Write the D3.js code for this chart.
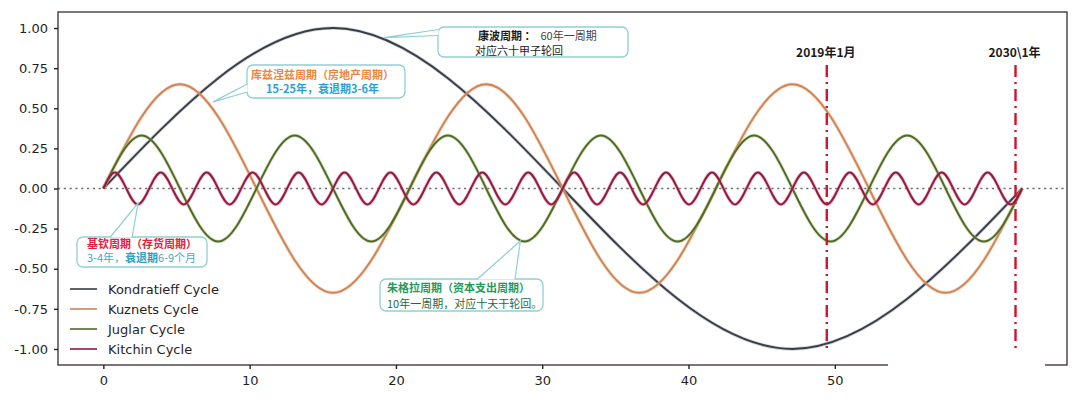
<!DOCTYPE html>
<html><head><meta charset="utf-8">
<script src="https://cdn.jsdelivr.net/npm/d3@7"></script>
<style>body{margin:0;background:#fff}svg{display:block}</style>
</head><body><svg id="c" width="1080" height="417"></svg>
<script>
// ---------- data ----------
const seriesNames = ["Kondratieff Cycle", "Kuznets Cycle", "Juglar Cycle", "Kitchin Cycle"];
// all four cycles start at x=0 and end where they meet again (in axis units)
const cycleStart = 0;
const cycleEnd = 62.8;
// values at evenly spaced quarter-period key points
const kondratieffY = [0, 1, 0, -1, 0];
const kuznetsY = [0, 0.65, 0, -0.65, 0, 0.65, 0, -0.65, 0, 0.65, 0, -0.65, 0];
const juglarY = [0, 0.33, 0, -0.33, 0, 0.33, 0, -0.33, 0, 0.33, 0, -0.33,
                 0, 0.33, 0, -0.33, 0, 0.33, 0, -0.33, 0, 0.33, 0, -0.33, 0];
const kitchinY = [0, 0.1, 0, -0.1, 0, 0.1, 0, -0.1, 0, 0.1, 0, -0.1, 0, 0.1, 0, -0.1,
                  0, 0.1, 0, -0.1, 0, 0.1, 0, -0.1, 0, 0.1, 0, -0.1, 0, 0.1, 0, -0.1,
                  0, 0.1, 0, -0.1, 0, 0.1, 0, -0.1, 0, 0.1, 0, -0.1, 0, 0.1, 0, -0.1,
                  0, 0.1, 0, -0.1, 0, 0.1, 0, -0.1, 0, 0.1, 0, -0.1, 0, 0.1, 0, -0.1,
                  0, 0.1, 0, -0.1, 0, 0.1, 0, -0.1, 0, 0.1, 0, -0.1, 0, 0.1, 0, -0.1, 0];
const xTicks = [0, 10, 20, 30, 40, 50, 60];
const yTicks = [1, 0.75, 0.5, 0.25, 0, -0.25, -0.5, -0.75, -1];
const markerX = [49.45, 62.35];
const markerLabels = ["2019年1月", "2030\\1年"];
// callout anchor points on the curves (x, y in data units)
const calloutAnchorX = [19.2, 7.5, 2.38, 28.5];
const calloutAnchorY = [0.94, 0.54, -0.09, -0.327];

// ---------- styles ----------
const colors = ["#383d48", "#cc845c", "#4e6a2a", "#8e1d3e"];
const halo = ["#9aa0a8", "#f0b070", "#a8c070", "#e07090"];
const tealBorder = "#8fcfd4";
const FONT = "'DejaVu Sans', sans-serif";
const CJK = "'Noto Sans CJK SC', sans-serif";

const svg = d3.select("#c");
const W = 1080, H = 417;
const L = 58, R = 1067, T = 12, B = 365;

const x = d3.scaleLinear().domain([-3.1, 65.87]).range([L, R]);
const y = d3.scaleLinear().domain([-1.1, 1.1]).range([B, T]);

svg.append("rect").attr("width", W).attr("height", H).attr("fill", "#fff");

// zero dotted line
svg.append("line")
  .attr("x1", x(-3.1)).attr("x2", x(65.87))
  .attr("y1", y(0)).attr("y2", y(0))
  .attr("stroke", "#6b6f78").attr("stroke-width", 1.6)
  .attr("stroke-dasharray", "2.2,3.6");

// curves
const allY = [kondratieffY, kuznetsY, juglarY, kitchinY];
const line = d3.line()
  .x(d => x(d[0])).y(d => y(d[1]))
  .curve(d3.curveNatural);
allY.forEach((vals, k) => {
  const n = vals.length;
  const pts = vals.map((v, i) => [cycleStart + i * (cycleEnd - cycleStart) / (n - 1), v]);
  const g = svg.append("g");
  g.append("path").attr("d", line(pts)).attr("fill", "none")
    .attr("stroke", halo[k]).attr("stroke-width", 3.6).attr("stroke-opacity", 0.45);
  g.append("path").attr("d", line(pts)).attr("fill", "none")
    .attr("stroke", colors[k]).attr("stroke-width", 1.9);
});

// vertical marker lines
markerX.forEach((mx, i) => {
  svg.append("line")
    .attr("x1", x(mx)).attr("x2", x(mx))
    .attr("y1", y(0.77)).attr("y2", y(-1.0))
    .attr("stroke", "#d2142e").attr("stroke-width", 2.4)
    .attr("stroke-dasharray", "12,5,2,5");
  svg.append("text")
    .attr("x", x(mx) - 1).attr("y", 57)
    .attr("text-anchor", "middle")
    .attr("font-family", CJK).attr("font-size", 12).attr("font-weight", 700)
    .attr("fill", "#1a1a1a")
    .text(markerLabels[i]);
});

// frame
svg.append("rect").attr("x", L).attr("y", T).attr("width", R - L).attr("height", B - T)
  .attr("fill", "none").attr("stroke", "#3a2a2e").attr("stroke-width", 1.3);

// axes
const xAxis = svg.append("g").attr("transform", `translate(0,${B})`)
  .call(d3.axisBottom(x).tickValues(xTicks).tickSize(4).tickPadding(7).tickFormat(d => String(d)));
const yAxis = svg.append("g").attr("transform", `translate(${L},0)`)
  .call(d3.axisLeft(y).tickValues(yTicks).tickSize(4).tickPadding(6).tickFormat(d => d.toFixed(2)));
[xAxis, yAxis].forEach(a => {
  a.select(".domain").remove();
  a.selectAll(".tick line").attr("stroke", "#222").attr("stroke-width", 1.4);
  a.selectAll(".tick text").attr("font-family", FONT).attr("font-size", 13).attr("fill", "#1e1e1e");
});

// legend
seriesNames.forEach((name, i) => {
  const ly = 289 + i * 20;
  svg.append("line").attr("x1", 70).attr("x2", 97).attr("y1", ly).attr("y2", ly)
    .attr("stroke", colors[i]).attr("stroke-width", 1.9).attr("stroke-opacity", 0.85);
  svg.append("text").attr("x", 108).attr("y", ly + 5)
    .attr("font-family", FONT).attr("font-size", 13).attr("fill", "#2a1e22")
    .text(name);
});

// callouts
const callouts = [
  { box: [438, 27, 190, 30], base: [[438.5, 29.5], [438.5, 35.5]],
    lines: [
      { x: 478, y: 39.5, parts: [["康波周期 ：", "#1a1a1a", 700], ["  60年一周期", "#444", 400]] },
      { x: 475, y: 55, parts: [["对应六十甲子轮回", "#1a1a1a", 400]] }
    ] },
  { box: [247, 65, 158, 33], base: [[247.5, 84], [247.5, 92]],
    lines: [
      { x: 251, y: 78.5, parts: [["库兹涅兹周期（房地产周期）", "#e8883a", 700]] },
      { x: 266, y: 92.5, parts: [["15-25年，衰退期3-6年", "#2a9fd6", 700]] }
    ] },
  { box: [77, 237, 130, 30], base: [[110, 237.5], [132, 237.5]],
    lines: [
      { x: 87, y: 248, parts: [["基钦周期（存货周期）", "#e0203c", 700]] },
      { x: 87, y: 262, parts: [["3-4年，", "#48a8c8", 400], ["衰退期", "#2a9fc4", 700], ["6-9个月", "#48a8c8", 400]] }
    ] },
  { box: [380, 279, 163, 32], base: [[477, 279.5], [515, 279.5]],
    lines: [
      { x: 387, y: 292, parts: [["朱格拉周期（资本支出周期）", "#1f9a58", 700]] },
      { x: 387, y: 308, parts: [["10年一周期，对应十天干轮回。", "#1c6a48", 400]] }
    ] }
];
callouts.forEach((c, i) => {
  const [bx, by, bw, bh] = c.box;
  const tip = [x(calloutAnchorX[i]), y(calloutAnchorY[i])];
  svg.append("rect").attr("x", bx).attr("y", by).attr("width", bw).attr("height", bh)
    .attr("rx", 6).attr("fill", "#fff").attr("stroke", tealBorder).attr("stroke-width", 1.3);
  svg.append("path")
    .attr("d", `M${c.base[0][0]},${c.base[0][1]}L${tip[0]},${tip[1]}L${c.base[1][0]},${c.base[1][1]}Z`)
    .attr("fill", "#fff").attr("stroke", "none");
  svg.append("path")
    .attr("d", `M${c.base[0][0]},${c.base[0][1]}L${tip[0]},${tip[1]}L${c.base[1][0]},${c.base[1][1]}`)
    .attr("fill", "none").attr("stroke", tealBorder).attr("stroke-width", 1.2);
  c.lines.forEach(ln => {
    const t = svg.append("text").attr("x", ln.x).attr("y", ln.y)
      .attr("font-family", CJK).attr("font-size", 11).attr("xml:space", "preserve");
    ln.parts.forEach(p => {
      t.append("tspan").attr("fill", p[1]).attr("font-weight", p[2]).text(p[0]);
    });
  });
});

// white patch covering the lower-right axis (as in the picture)
svg.append("rect").attr("x", 888).attr("y", 351).attr("width", 157).attr("height", 36)
  .attr("rx", 12).attr("fill", "#fff");
</script>
</body></html>
